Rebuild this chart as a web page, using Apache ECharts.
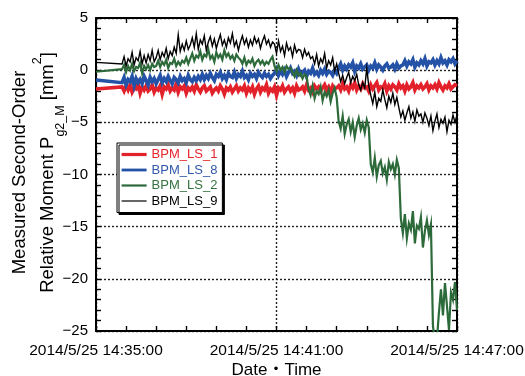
<!DOCTYPE html>
<html>
<head>
<meta charset="utf-8">
<title>Measured second-order relative moment</title>
<script src="https://cdn.jsdelivr.net/npm/echarts@6/dist/echarts.min.js"></script>
<style>
  html, body { margin: 0; padding: 0; background: #fff; }
  #chart { width: 525px; height: 376px; }
</style>
</head>
<body>
<div id="chart"></div>
<script>
// Time base: seconds after 2014/5/25 14:35:00.
// Each monitor holds one value from 14:35:00, then records every SAMPLE_STEP seconds from SAMPLE_START.
const SAMPLE_START = 52;
const SAMPLE_STEP = 4;

const seriesNames = ['BPM_LS_1', 'BPM_LS_8', 'BPM_LS_2', 'BPM_LS_9'];
const leadValues = [-1.8, -0.95, -0.15, 0.75];

const xTickLabels = ['2014/5/25 14:35:00', '2014/5/25 14:41:00', '2014/5/25 14:47:00'];
const yTickValues = [5, 0, -5, -10, -15, -20, -25];

// BPM_LS_1 [mm^2]
const ls1 = [
  -1.6, -2.0, -1.5, -1.9, -1.4, -2.1, -1.7, -1.8, -1.3, -2.2,
  -1.6, -1.9, -1.5, -2.0, -1.8, -1.4, -2.1, -1.7, -1.9, -1.5,
  -2.3, -1.6, -1.8, -1.4, -2.0, -1.7, -1.9, -1.3, -2.1, -1.6,
  -1.8, -1.5, -2.2, -1.7, -1.9, -1.6, -2.0, -1.4, -1.8, -2.1,
  -1.7, -1.5, -2.0, -1.8, -1.6, -2.2, -1.9, -1.7, -2.0, -1.5,
  -1.8, -2.3, -1.7, -1.9, -1.6, -2.1, -1.8, -1.5, -2.0, -1.7,
  -1.9, -1.5, -2.2, -1.7, -2.0, -1.6, -2.3, -1.8, -1.5, -2.1,
  -1.7, -1.9, -1.4, -2.2, -1.8, -2.0, -1.6, -2.4, -1.7, -1.9,
  -1.5, -2.1, -1.8, -1.6, -2.0, -1.7, -2.2, -1.5, -1.9, -1.8,
  -1.6, -2.0, -1.4, -1.9, -1.7, -2.1, -1.5, -1.8, -1.6, -2.0,
  -1.7, -1.4, -1.9, -1.6, -2.1, -1.5, -1.8, -1.7,
  -1.5, -1.9, -1.3, -1.8, -1.6, -2.0, -1.4, -1.7, -1.2, -1.9,
  -1.5, -1.8, -1.3, -1.7, -1.6, -2.0, -1.4, -1.8, -1.5, -1.2,
  -1.9, -1.6, -1.7, -1.3, -2.0, -1.5, -1.8, -1.4, -1.6, -1.9,
  -1.3, -1.7, -1.5, -2.0, -1.4, -1.8, -1.6, -1.2, -1.9, -1.5,
  -1.7, -1.4, -1.8, -1.6, -1.3, -1.9, -1.5, -1.7, -1.4, -1.8,
  -1.2, -1.6, -1.9, -1.5, -1.7, -1.3, -1.8, -1.6, -1.4, -1.5
];

// BPM_LS_8 [mm^2]
const ls8 = [
  -1.2, -0.7, -1.4, -0.9, -1.1, -0.6, -1.5, -0.8, -1.2, -0.9,
  -1.3, -0.6, -1.0, -1.4, -0.7, -1.1, -0.8, -1.3, -0.9, -0.5,
  -1.2, -0.8, -1.1, -0.6, -1.0, -1.3, -0.7, -0.9, -1.2, -0.6,
  -1.0, -0.8, -1.2, -0.5, -0.9, -1.1, -0.7, -1.0, -0.6, -0.9,
  -0.4, -0.9, -0.5, -0.8, -0.3, -0.7, -1.0, -0.4, -0.6, -0.2,
  -0.8, -0.5, -0.9, -0.3, -0.6, -0.7, -0.2, -0.8, -0.4, -0.6,
  -0.1, -0.7, -0.5, -0.9, -0.3, -0.6, -0.4, -0.8, -0.2, -0.5,
  -0.7, -0.3, -0.6, -0.4, -0.8, -0.5,
  -0.3, 0.1, -0.5, -0.1, -0.4, 0.0, -0.6, -0.2, 0.2, -0.3,
  -0.1, -0.5, 0.1, -0.4, -0.2, 0.0, -0.6, -0.1, -0.3, 0.2,
  -0.4, -0.2, -0.5, 0.0, -0.3, 0.1, -0.4, -0.1, -0.2, -0.5,
  0.0, -0.3,
  0.2, 0.6, 0.0, 0.4, 0.1, 0.5, 0.3, 0.7, -0.1, 0.4,
  0.2, 0.6, 0.1, 0.3, 0.5, 0.0, 0.4, 0.2, 0.7, 0.1,
  0.5, 0.3, 0.0, 0.4, 0.6, 0.2, 0.3, 0.5, 0.1, 0.6,
  0.2, 0.4,
  0.5, 0.9, 0.4, 0.8, 0.6, 1.0, 0.3, 0.7, 0.5, 0.9,
  0.6, 1.1, 0.4, 0.8, 0.7, 1.0, 0.5, 0.9, 0.6, 1.2,
  0.7, 0.9, 0.5, 1.0, 0.8, 1.1, 0.6, 0.9
];

// BPM_LS_2 [mm^2]
const ls2 = [
  0.1, 0.5, -0.2, 0.4, 0.0, 0.6, -0.1, 0.3, 0.2, 0.7, -0.3, 0.4, 0.1, 0.5, 0.0, 0.6, 0.3,
  0.4, 0.9, 0.3, 0.8, 0.5, 1.0, 0.2, 0.7, 0.6, 1.1, 0.4, 0.8, 0.5, 0.9, 0.7, 1.2, 0.6,
  1.1, 1.6, 0.9, 1.4, 1.2, 1.8, 1.0, 1.5, 1.3, 2.0, 1.1, 1.4, 0.8, 1.7, 1.2, 1.5, 1.0,
  1.9, 1.3, 1.6, 1.1, 1.4, 0.9, 1.5, 1.2,
  1.0, 0.6, 1.2, 0.5, 0.9, 0.7, 1.1, 0.4, 0.8, 1.0, 0.6, 0.9, 0.5, 0.8, 0.6, 1.0, 1.3,
  0.4, -0.1, 0.5, 0.0, 0.3, -0.2, 0.4, 0.1, 0.2,
  -0.2, -0.6, 0.0, -0.5, -0.3, -0.8, -0.4, -0.6,
  -1.8, -2.4, -1.5, -2.7, -2.0, -2.3, -1.6, -2.9, -2.1, -2.5, -1.9, -3.0, -2.2, -1.7, -2.6,
  -4.9, -5.6, -4.4, -6.1, -5.2, -4.7, -5.9, -5.0, -6.4, -5.3, -4.6, -5.7, -5.1, -6.0, -4.8, -5.5,
  -9.0, -9.8, -8.4, -10.2, -9.1, -8.7, -9.9, -9.3, -10.5, -8.8, -9.5, -9.0, -10.0, -8.6, -9.4,
  -14.2, -15.6, -13.8, -16.1, -14.7, -15.3, -13.5, -16.6, -14.9, -15.2, -14.1, -17.0, -15.4, -14.4, -15.8, -14.8,
  -24.5, -26.0, -25.8, -23.2,
  -21.0, -23.5, -20.4, -22.6, -24.9, -21.3, -22.0, -20.3, -23.0
];

// BPM_LS_9 [mm^2]
const ls9 = [
  0.6, 1.3, 0.4, 1.1, 0.8, 1.7, 0.5, 1.2, 0.9, 1.8, 0.6, 1.4, 0.7, 1.5, 0.9, 1.9, 0.8,
  1.2, 1.9, 1.0, 1.7, 1.3, 2.1, 1.1, 1.8, 1.4,
  2.2, 1.6, 3.4, 1.8, 2.5, 1.9, 2.8, 2.0,
  2.4, 3.1, 2.2, 3.5, 2.0, 2.9, 2.5, 3.3, 1.9, 2.7,
  3.2, 2.3, 3.0, 2.1, 2.8, 3.4, 2.4, 2.9, 2.2, 3.1,
  2.6, 3.5, 2.3, 2.8, 1.9, 2.7, 3.3, 2.5, 3.0, 2.2,
  2.9, 2.4, 3.2, 2.6, 3.0, 2.1, 2.8, 3.3, 2.5, 2.9,
  2.2, 2.7,
  2.5, 1.6, 2.8, 1.8, 2.3, 1.4, 2.6, 1.9, 2.2, 1.3, 2.4, 1.7, 2.0,
  1.9, 1.2, 2.0, 1.4, 1.7, 1.1,
  1.3, 0.6, 1.5, 0.4, 1.1, 0.7, 1.6, 0.2, 0.9, 0.5, 1.2, -0.1, 0.6,
  -0.3, -1.1, -0.5, -1.3, -0.7, -0.2, -1.2, -0.6, -1.0, -0.4,
  -1.4, -1.9, -1.2, -1.7, 0.2, -1.5,
  -2.4, -3.2, -2.1, -3.5, -2.7, -3.0, -1.9, -2.8, -3.6, -2.5, -3.1, -2.2, -3.3, -2.6,
  -3.6, -4.5, -3.9, -4.8, -4.1, -3.5, -4.6, -4.0, -4.9, -3.8, -4.4, -4.2, -5.0, -4.1,
  -4.6, -5.3, -4.4, -5.8, -4.9, -4.2, -5.5, -4.7, -5.1, -4.5, -5.9, -4.8, -5.2, -4.3, -5.0, -4.3
];

const seriesValues = [ls1, ls8, ls2, ls9];
const lineColors = ['#e3212b', '#2452a6', '#2c6a3a', '#000000'];
const legendTextColors = ['#e8242d', '#3259ab', '#34723f', '#000000'];
const lineWidths = [3.6, 3.6, 2.2, 1.4];
const legendLineWidths = [3.2, 2.8, 2.2, 1.2];

function toPairs(lead, values) {
  const pts = [[0, lead]];
  values.forEach((v, i) => pts.push([SAMPLE_START + SAMPLE_STEP * i, v]));
  return pts;
}

const FONT = '"Liberation Sans", Arial, "Noto Sans CJK JP", sans-serif';
const minus = v => String(v).replace('-', '\u2212');

// Vertical y-axis title: two rotated lines, the second with a subscript and a superscript.
const TITLE_SIZE = 18.5;
const SCRIPT_SIZE = 12.5;
const titleLine1 = 'Measured Second-Order';
const titlePieces = [
  { text: 'Relative Moment P', size: TITLE_SIZE, shift: 0 },
  { text: 'g2_M', size: SCRIPT_SIZE, shift: 13 },
  { text: ' [mm', size: TITLE_SIZE, shift: 0 },
  { text: '2', size: SCRIPT_SIZE, shift: -10 },
  { text: ']', size: TITLE_SIZE, shift: 0 }
];
const TITLE_CENTER_Y = 172.5;
const LINE1_X = 20;
const LINE2_X = 47.5;

const measureCtx = document.createElement('canvas').getContext('2d');
function textWidth(str, size) {
  measureCtx.font = size + 'px ' + FONT;
  return measureCtx.measureText(str).width;
}

function yTitleGraphics() {
  const els = [{
    type: 'text', x: LINE1_X, y: TITLE_CENTER_Y, rotation: Math.PI / 2, silent: true,
    style: { text: titleLine1, font: TITLE_SIZE + 'px ' + FONT, fill: '#000', align: 'center', verticalAlign: 'middle' }
  }];
  const widths = titlePieces.map(p => textWidth(p.text, p.size));
  const total = widths.reduce((a, b) => a + b, 0);
  let offset = 0;
  titlePieces.forEach((p, i) => {
    els.push({
      type: 'text', x: LINE2_X + p.shift, y: TITLE_CENTER_Y + total / 2 - offset, rotation: Math.PI / 2, silent: true,
      style: { text: p.text, font: p.size + 'px ' + FONT, fill: '#000', align: 'left', verticalAlign: 'middle' }
    });
    offset += widths[i];
  });
  return els;
}

const chart = echarts.init(document.getElementById('chart'), null, { renderer: 'canvas' });

const frameLine = { show: true, onZero: false, lineStyle: { color: '#000', width: 2 } };
const tickStyle = { color: '#000', width: 1.4 };

chart.setOption({
  animation: false,
  backgroundColor: '#fff',
  textStyle: { fontFamily: FONT },
  grid: { left: 96, right: 68, top: 18, bottom: 45, containLabel: false, outerBoundsMode: 'none' },
  graphic: yTitleGraphics(),
  legend: {
    orient: 'vertical',
    left: 117,
    top: 143,
    padding: [4, 5, 4, 3],
    itemWidth: 25,
    itemHeight: 10,
    itemGap: 0.5,
    backgroundColor: '#fff',
    borderColor: '#000',
    borderWidth: 1,
    shadowColor: '#000',
    shadowBlur: 0,
    shadowOffsetX: 2,
    shadowOffsetY: 2,
    itemStyle: { opacity: 0 },
    textStyle: { fontFamily: FONT, fontSize: 13, lineHeight: 15 },
    data: seriesNames.map((n, i) => ({
      name: n,
      itemStyle: { opacity: 0 },
      lineStyle: { width: legendLineWidths[i], opacity: 1 },
      textStyle: { color: legendTextColors[i] }
    }))
  },
  xAxis: [
    {
      type: 'value', position: 'bottom', min: 0, max: 720, interval: 360,
      axisLine: frameLine,
      axisTick: { show: true, inside: true, length: 5, lineStyle: tickStyle },
      minorTick: { show: true, splitNumber: 6, length: 5, lineStyle: tickStyle },
      splitLine: { show: true, lineStyle: { type: [2, 2], color: '#222', width: 1.4 } },
      axisLabel: {
        color: '#000', fontSize: 15.5, margin: 12, fontFamily: FONT,
        formatter: v => xTickLabels[Math.round(v / 360)] || ''
      },
      name: 'Date\u30FBTime', nameLocation: 'middle', nameGap: 31, nameMoveOverlap: false,
      nameTextStyle: { color: '#000', fontSize: 17, fontFamily: FONT }
    },
    {
      type: 'value', position: 'top', min: 0, max: 720, interval: 360,
      axisLine: frameLine,
      axisTick: { show: true, inside: true, length: 5, lineStyle: tickStyle },
      minorTick: { show: true, splitNumber: 6, length: 5, lineStyle: tickStyle },
      splitLine: { show: false },
      axisLabel: { show: false }
    }
  ],
  yAxis: [
    {
      type: 'value', position: 'left', min: yTickValues[yTickValues.length - 1], max: yTickValues[0], interval: 5,
      axisLine: frameLine,
      axisTick: { show: true, inside: true, length: 5, lineStyle: tickStyle },
      minorTick: { show: true, splitNumber: 5, length: 5, lineStyle: tickStyle },
      splitLine: { show: true, lineStyle: { type: [2, 2], color: '#222', width: 1.4 } },
      axisLabel: { color: '#000', fontSize: 15, margin: 8, fontFamily: FONT, formatter: minus }
    },
    {
      type: 'value', position: 'right', min: -25, max: 5, interval: 5,
      axisLine: frameLine,
      axisTick: { show: true, inside: true, length: 5, lineStyle: tickStyle },
      minorTick: { show: true, splitNumber: 5, length: 5, lineStyle: tickStyle },
      splitLine: { show: false },
      axisLabel: { show: false }
    }
  ],
  series: seriesNames.map((n, i) => ({
    name: n,
    type: 'line',
    xAxisIndex: 0,
    yAxisIndex: 0,
    symbol: 'none',
    clip: true,
    color: lineColors[i],
    lineStyle: { color: lineColors[i], width: lineWidths[i], join: 'miter' },
    emphasis: { disabled: true },
    data: toPairs(leadValues[i], seriesValues[i])
  }))
});
</script>
</body>
</html>
